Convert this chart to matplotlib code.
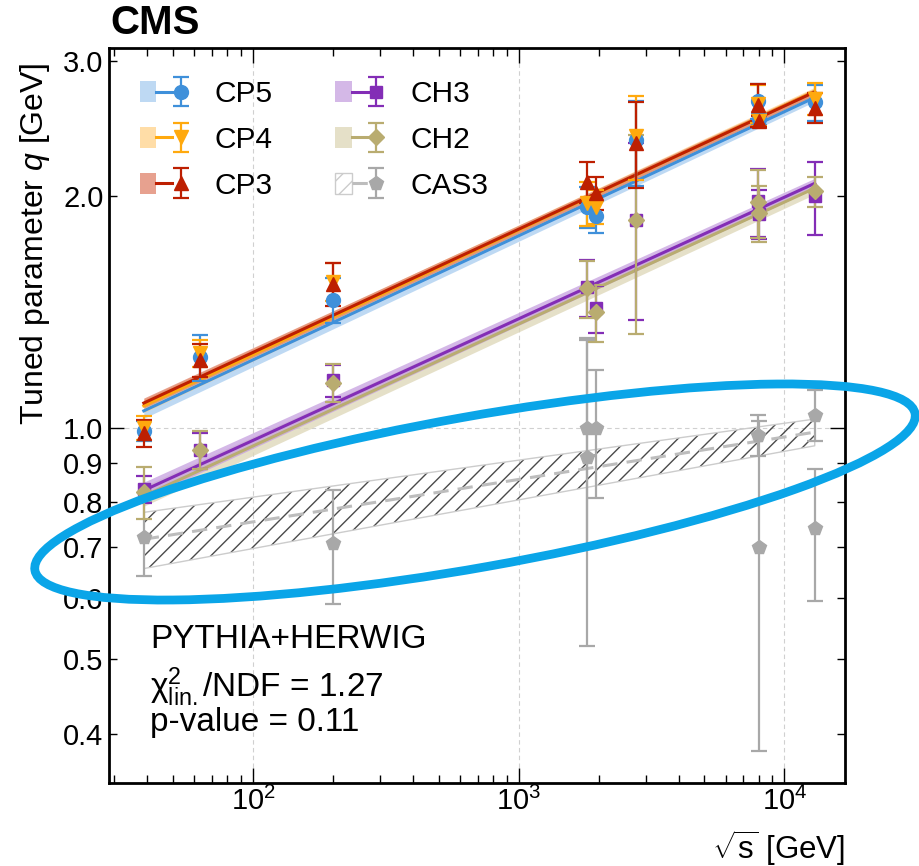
import numpy as np
import matplotlib
matplotlib.use("Agg")
import matplotlib.pyplot as plt
from matplotlib.patches import Patch, Ellipse
from matplotlib.legend_handler import HandlerTuple
from matplotlib.ticker import FixedLocator, FixedFormatter, NullFormatter, LogLocator
from matplotlib.transforms import IdentityTransform

plt.rcParams['font.family'] = ['Liberation Sans', 'DejaVu Sans']
plt.rcParams['mathtext.fontset'] = 'custom'
plt.rcParams['mathtext.rm'] = 'Liberation Sans'
plt.rcParams['mathtext.it'] = 'Liberation Sans:italic'
plt.rcParams['mathtext.sf'] = 'Liberation Sans'
plt.rcParams['hatch.linewidth'] = 1.0

# ---------------- data ----------------
tunes = ["CP5", "CP4", "CP3", "CH3", "CH2", "CAS3"]
colors = ["#3f90da", "#ffa90e", "#bd1f01", "#832db6", "#b9ac70", "#a8a8a8"]
markers = ["o", "v", "^", "s", "D", "p"]

# sqrt(s) [GeV] and tuned q [GeV] with symmetric errors
cp5_x = [38.8, 63, 200, 1800, 1960, 2760, 7950, 8050, 13000]
cp5_y = [0.99, 1.235, 1.468, 1.94, 1.885, 2.365, 2.66, 2.52, 2.65]
cp5_e = [0.03, 0.085, 0.10, 0.12, 0.09, 0.30, 0.14, 0.04, 0.14]

cp4_x = [38.8, 63, 200, 1800, 1960, 2760, 7950, 8050, 13000]
cp4_y = [1.00, 1.25, 1.55, 1.96, 1.94, 2.40, 2.64, 2.51, 2.68]
cp4_e = [0.035, 0.05, 0.09, 0.13, 0.10, 0.30, 0.15, 0.04, 0.13]

cp3_x = [38.8, 63, 200, 1800, 1960, 2760, 7950, 8050, 13000]
cp3_y = [0.985, 1.225, 1.54, 2.09, 2.02, 2.35, 2.63, 2.505, 2.61]
cp3_e = [0.04, 0.06, 0.10, 0.13, 0.10, 0.30, 0.17, 0.04, 0.12]

ch3_x = [38.8, 63, 200, 1800, 1960, 2760, 7950, 8050, 13000]
ch3_y = [0.832, 0.935, 1.153, 1.525, 1.43, 1.865, 1.97, 1.90, 2.00]
ch3_e = [0.034, 0.05, 0.055, 0.13, 0.10, 0.485, 0.20, 0.14, 0.22]

ch2_x = [38.8, 63, 200, 1800, 1960, 2760, 7950, 8050, 13000]
ch2_y = [0.825, 0.937, 1.145, 1.52, 1.415, 1.865, 1.965, 1.905, 2.03]
ch2_e = [0.065, 0.052, 0.065, 0.13, 0.12, 0.54, 0.20, 0.16, 0.09]

cas3_x = [38.8, 200, 1800, 1800, 1960, 7950, 8050, 13000, 13000]
cas3_y = [0.721, 0.709, 1.00, 0.915, 1.00, 0.98, 0.70, 1.04, 0.74]
cas3_e = [0.08, 0.12, 0.30, 0.395, 0.19, 0.06, 0.32, 0.08, 0.145]

# fit results: q at sqrt(s)=38.8 and 13000 GeV, relative band half-width at both ends
fit_range = [38.8, 13000]
cp5_fit = [1.052, 2.69, 0.022, 0.012]
cp4_fit = [1.068, 2.74, 0.020, 0.012]
cp3_fit = [1.077, 2.735, 0.015, 0.010]
ch3_fit = [0.829, 2.08, 0.025, 0.015]
ch2_fit = [0.815, 2.05, 0.030, 0.018]
cas3_fit = [0.716, 0.987, 0.084, 0.040]

band_colors = ["#a9cdf0", "#ffd28a", "#e0826a", "#c6a0e0", "#ddd6b6"]

yticks_labels = ["0.4", "0.5", "0.6", "0.7", "0.8", "0.9", "2.0", "3.0"]
yticks_minor = [0.4, 0.5, 0.6, 0.7, 0.8, 0.9, 2.0, 3.0]

series = [
    (cp5_x, cp5_y, cp5_e, cp5_fit),
    (cp4_x, cp4_y, cp4_e, cp4_fit),
    (cp3_x, cp3_y, cp3_e, cp3_fit),
    (ch3_x, ch3_y, ch3_e, ch3_fit),
    (ch2_x, ch2_y, ch2_e, ch2_fit),
    (cas3_x, cas3_y, cas3_e, cas3_fit),
]

# ---------------- figure ----------------
W, H = 920, 866
fig = plt.figure(figsize=(W / 100, H / 100), dpi=100)
ax = fig.add_axes([109 / W, 1 - 783 / H, (845 - 109) / W, (783 - 48) / H])
ax.set_xscale("log")
ax.set_yscale("log")
ax.set_xlim(28.7, 16900)
ax.set_ylim(0.345, 3.12)

xs = np.geomspace(fit_range[0], fit_range[1], 200)
t = (np.log(xs) - np.log(fit_range[0])) / (np.log(fit_range[1]) - np.log(fit_range[0]))


def fit_curve(f):
    q = np.exp(np.log(f[0]) + t * (np.log(f[1]) - np.log(f[0])))
    r = f[2] + t * (f[3] - f[2])
    return q, q * (1 - r), q * (1 + r)


order = [4, 3, 0, 1, 2]
lines_store = {}
for i in order:
    q, lo, hi = fit_curve(series[i][3])
    ax.fill_between(xs, lo, hi, color=band_colors[i], alpha=0.75, lw=0, zorder=2)
for i in order:
    q, lo, hi = fit_curve(series[i][3])
    ln, = ax.plot(xs, q, color=colors[i], lw=2.2, zorder=3)
    lines_store[i] = ln

# CAS3 hatched band
q, lo, hi = fit_curve(cas3_fit)
ax.fill_between(xs, lo, hi, facecolor="none", edgecolor="#4a4a4a", hatch="//", lw=0, zorder=2)
ax.fill_between(xs, lo, hi, facecolor="none", edgecolor="#cccccc", lw=1.0, zorder=2)
cas_line, = ax.plot(xs, q, color="#bdbdbd", lw=2.2, ls=(0, (5, 3)), zorder=3)
lines_store[5] = cas_line

# data points
eb_store = {}
for i in [5, 3, 4, 0, 1, 2]:
    x, y, e, _ = series[i]
    ms = {"o": 10, "v": 10.5, "^": 10.5, "s": 9, "D": 8.5, "p": 10}[markers[i]]
    eb = ax.errorbar(x, y, yerr=e, fmt=markers[i], color=colors[i], ms=ms, mec=colors[i],
                     elinewidth=1.6, capsize=5.5, capthick=1.6, zorder=5 if i < 5 else 4)
    eb_store[i] = eb

# axes styling
for s in ax.spines.values():
    s.set_linewidth(2.0)
ax.tick_params(which="both", direction="in", top=True, right=True, width=1.0, labelsize=21,
               colors="black")
ax.tick_params(axis="x", which="major", length=11, pad=3)
ax.tick_params(axis="x", which="minor", length=5.5)
ax.tick_params(axis="y", which="major", length=11, pad=4)
ax.tick_params(axis="y", which="minor", length=6, pad=4)
ax.xaxis.set_major_locator(LogLocator(base=10, numticks=10))
ax.xaxis.set_minor_locator(LogLocator(base=10, subs=np.arange(2, 10), numticks=20))
ax.xaxis.set_minor_formatter(NullFormatter())
ax.yaxis.set_major_locator(FixedLocator([1.0]))
ax.yaxis.set_major_formatter(FixedFormatter(["1.0"]))
ax.yaxis.set_minor_locator(FixedLocator(yticks_minor))
ax.yaxis.set_minor_formatter(FixedFormatter(yticks_labels))
ax.tick_params(axis="y", which="minor", labelsize=21)
ax.grid(True, which="major", ls=(0, (4, 3)), color="#d0d0d0", lw=0.8, zorder=0)
ax.set_axisbelow(True)

ax.set_ylabel("Tuned parameter $q$ [GeV]", fontsize=23, loc="top")
ax.yaxis.set_label_coords(-0.077, 0.98)
ax.set_xlabel(r"$\sqrt{\mathrm{s}}$ [GeV]", fontsize=22.5, loc="right")
ax.xaxis.set_label_coords(1.0, -0.061)

# legend
leg_handles = []
for i in range(6):
    if i < 5:
        p = Patch(facecolor=band_colors[i], alpha=0.75, edgecolor="none")
    else:
        p = Patch(facecolor="none", edgecolor="#cccccc", hatch="//")
    leg_handles.append((p, lines_store[i], eb_store[i]))

ax.legend(leg_handles, tunes, ncol=2, loc="upper left",
          bbox_to_anchor=(31 / 736, 1 - 32 / 735), borderaxespad=0, borderpad=0,
          frameon=False, fontsize=21.5, handlelength=1.63, handleheight=0.7,
          handletextpad=0.87, columnspacing=2.1, labelspacing=0.6,
          handler_map={tuple: HandlerTuple(ndivide=None)})

# text block
ax.text(41 / 736, 0.1946, "PYTHIA+HERWIG", transform=ax.transAxes, fontsize=24, va="center")
ax.text(41 / 736, 0.130, r"$\mathrm{\chi}^{2}_{\mathrm{lin.}}$/NDF = 1.27", transform=ax.transAxes,
        fontsize=24, va="center")
ax.text(41 / 736, 0.082, "p-value = 0.11", transform=ax.transAxes, fontsize=24, va="center")

fig.text(110 / W, 1 - 23 / H, "CMS", fontsize=29, fontweight="bold", va="center", ha="left")

# highlight ellipse annotation (pixel coordinates)
ell = Ellipse((475, H - 492), width=894, height=151, angle=10.1, fill=False,
              edgecolor="#0aa5e8", lw=6.3, transform=IdentityTransform(), zorder=10)
fig.add_artist(ell)

fig.savefig("out.png", dpi=100)
